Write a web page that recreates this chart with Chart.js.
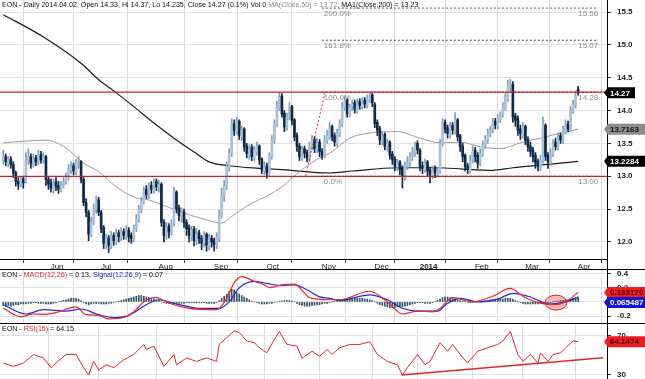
<!DOCTYPE html>
<html>
<head>
<meta charset="utf-8">
<script src="https://cdn.jsdelivr.net/npm/chart.js@4.4.1/dist/chart.umd.min.js"></script>
<style>
html, body { margin: 0; padding: 0; background: #fff; }
#wrap { position: relative; width: 645px; height: 379px; overflow: hidden; font-family: "Liberation Sans", Arial, sans-serif; }
canvas { position: absolute; left: 0; }
.ttl { position: absolute; left: 2px; font-size: 7.1px; line-height: 9px; color: #111; white-space: nowrap; }
</style>
</head>
<body>
<div id="wrap">
  <canvas id="cMain" width="645" height="270" style="top:0px"></canvas>
  <canvas id="cMacd" width="645" height="54" style="top:269px"></canvas>
  <canvas id="cRsi" width="645" height="56" style="top:323px"></canvas>
  <div class="ttl" style="top:1px">EON - Daily 2014.04.02, Open 14.33, Hi 14.37, Lo 14.235, Close 14.27 (0.1%) Vol 0 <span style="color:#8c8c8c">MA(Close,50) = 13.72,</span> MA1(Close,200) = 13.23</div>
  <div class="ttl" style="top:271px">EON - <span style="color:#e0262c">MACD(12,26)</span> = 0.13, <span style="color:#2424d0">Signal(12,26,9)</span> = 0.07</div>
  <div class="ttl" style="top:325px">EON - <span style="color:#e0262c">RSI(15)</span> = 64.15</div>
</div>
<script>
// daily bars, 2013-05-07 .. 2014-04-02 (index = trading day)
const opens = [13.25,13.30,13.20,13.26,13.18,13.05,12.92,12.88,12.96,12.92,
13.24,13.30,13.18,13.28,13.22,13.33,13.24,13.30,12.95,12.90,
12.80,12.92,12.86,12.80,12.86,12.92,12.98,13.10,13.16,13.06,
13.18,13.22,12.95,12.60,12.45,12.12,12.30,12.50,12.64,12.45,
12.22,11.96,12.06,11.94,12.10,12.00,12.14,12.06,12.16,12.08,
12.18,12.10,12.04,12.20,12.35,12.50,12.62,12.80,12.70,12.86,
12.78,12.92,12.82,12.88,12.30,12.10,12.24,12.14,12.28,12.76,
12.52,12.38,12.46,12.30,12.22,12.08,12.20,12.00,12.14,12.06,
11.98,12.12,11.94,12.06,12.02,11.95,12.05,12.40,12.70,12.86,
13.12,13.36,13.80,13.68,13.84,13.60,13.72,13.46,13.32,13.44,
13.28,13.38,13.46,13.26,13.08,13.16,13.04,13.30,13.55,13.80,
14.04,14.22,13.96,13.74,13.90,14.06,13.86,13.62,13.46,13.28,
13.42,13.36,13.26,13.44,13.56,13.40,13.52,13.38,13.30,13.54,
13.60,13.76,13.62,13.50,13.64,13.80,14.04,14.16,13.94,14.06,
14.12,14.00,14.14,14.06,14.16,14.08,14.16,14.24,14.10,13.82,
13.72,13.52,13.64,13.44,13.52,13.34,13.26,13.14,13.22,13.12,
12.98,13.16,13.20,13.30,13.36,13.50,13.40,13.16,13.10,13.22,
13.10,13.00,13.12,13.04,13.08,13.50,13.82,13.74,13.62,13.78,
13.68,13.86,13.62,13.46,13.32,13.16,13.08,13.24,13.40,13.32,
13.20,13.34,13.46,13.56,13.64,13.70,13.84,13.76,13.86,13.94,
14.04,14.18,14.36,14.40,13.92,13.88,13.72,13.62,13.76,13.56,
13.46,13.40,13.32,13.22,13.12,13.24,13.78,13.32,13.20,13.34,
13.52,13.44,13.62,13.54,13.68,13.80,13.70,14.00,14.08,14.33];
const highs = [13.40,13.34,13.30,13.30,13.22,13.08,12.98,13.00,13.00,13.36,
13.42,13.34,13.34,13.32,13.40,13.38,13.36,13.32,13.00,12.96,
12.96,12.98,12.92,12.92,12.98,13.05,13.18,13.22,13.20,13.26,
13.30,13.24,12.98,12.66,12.48,12.38,12.58,12.70,12.68,12.48,
12.25,12.12,12.10,12.16,12.14,12.20,12.18,12.22,12.20,12.25,
12.22,12.14,12.26,12.42,12.56,12.68,12.84,12.86,12.90,12.92,
12.96,12.96,12.94,12.90,12.34,12.30,12.28,12.34,12.83,12.78,
12.56,12.52,12.50,12.34,12.26,12.24,12.24,12.20,12.18,12.10,
12.16,12.14,12.12,12.10,12.06,12.14,12.48,12.82,12.94,13.22,
13.42,13.88,13.86,13.90,13.86,13.76,13.74,13.50,13.48,13.48,
13.46,13.52,13.48,13.28,13.22,13.20,13.36,13.62,13.86,14.14,
14.28,14.26,14.00,13.96,14.12,14.08,13.88,13.66,13.50,13.46,
13.46,13.40,13.52,13.62,13.60,13.58,13.56,13.42,13.62,13.70,
13.82,13.78,13.66,13.72,13.86,14.12,14.22,14.18,14.10,14.16,
14.16,14.18,14.18,14.20,14.20,14.24,14.27,14.26,14.12,13.86,
13.76,13.68,13.66,13.56,13.54,13.38,13.30,13.26,13.24,13.16,
13.22,13.30,13.36,13.44,13.52,13.54,13.42,13.22,13.26,13.24,
13.14,13.16,13.16,13.14,13.56,13.88,13.86,13.78,13.82,13.82,
13.97,13.88,13.64,13.50,13.34,13.20,13.32,13.46,13.44,13.36,
13.42,13.54,13.62,13.72,13.76,13.88,13.88,13.94,13.98,14.12,
14.26,14.46,14.48,14.44,13.96,13.92,13.78,13.82,13.78,13.60,
13.52,13.44,13.36,13.26,13.32,13.90,13.80,13.36,13.42,13.56,
13.58,13.66,13.66,13.76,13.86,13.84,14.06,14.16,14.30,14.37];
const lows = [13.18,13.16,13.14,13.12,12.98,12.85,12.80,12.84,12.82,12.90,
13.18,13.12,13.14,13.16,13.18,13.20,13.20,12.86,12.80,12.76,
12.74,12.78,12.74,12.76,12.82,12.88,12.94,13.04,13.02,13.02,
13.12,12.90,12.55,12.38,12.02,12.08,12.26,12.44,12.40,12.14,
11.90,11.90,11.84,11.90,11.95,11.96,12.00,12.02,12.04,12.04,
12.00,11.98,12.00,12.16,12.30,12.44,12.58,12.66,12.66,12.74,
12.74,12.78,12.76,12.24,12.00,12.04,12.06,12.10,12.24,12.44,
12.32,12.30,12.22,12.10,12.00,12.02,11.94,11.96,11.98,11.88,
11.92,11.86,11.88,11.92,11.86,11.90,12.00,12.36,12.62,12.80,
13.08,13.30,13.62,13.64,13.56,13.54,13.38,13.28,13.26,13.24,
13.24,13.32,13.18,13.04,13.02,12.97,13.00,13.26,13.50,13.76,
14.00,13.90,13.68,13.70,13.86,13.78,13.54,13.38,13.24,13.24,
13.28,13.22,13.22,13.40,13.36,13.36,13.30,13.26,13.28,13.50,
13.56,13.54,13.46,13.46,13.60,13.76,14.00,13.90,13.90,14.00,
13.96,13.96,14.02,14.02,14.04,14.04,14.12,14.06,13.74,13.62,
13.48,13.48,13.40,13.38,13.26,13.18,13.08,13.08,13.02,12.82,
12.94,13.10,13.14,13.24,13.30,13.34,13.08,13.04,13.06,13.00,
12.90,12.96,12.98,13.00,13.04,13.46,13.66,13.58,13.58,13.64,
13.64,13.54,13.38,13.22,13.08,13.04,13.05,13.20,13.22,13.12,
13.16,13.30,13.42,13.50,13.60,13.66,13.72,13.72,13.82,13.90,
14.00,14.14,14.30,13.82,13.76,13.62,13.56,13.58,13.48,13.38,
13.30,13.22,13.12,13.08,13.08,13.20,13.24,13.12,13.16,13.30,
13.40,13.40,13.50,13.50,13.64,13.68,13.68,13.96,14.04,14.235];
const closes = [13.30,13.22,13.26,13.18,13.05,12.92,12.88,12.95,12.90,13.25,
13.30,13.20,13.28,13.22,13.32,13.25,13.30,12.95,12.88,12.82,
12.90,12.85,12.80,12.86,12.92,12.98,13.10,13.15,13.08,13.20,
13.22,12.95,12.60,12.45,12.12,12.30,12.50,12.62,12.45,12.20,
11.98,12.05,11.95,12.10,12.02,12.12,12.08,12.15,12.10,12.18,
12.08,12.05,12.20,12.35,12.50,12.62,12.78,12.72,12.85,12.80,
12.90,12.84,12.88,12.30,12.10,12.22,12.15,12.28,12.75,12.50,
12.40,12.45,12.30,12.20,12.10,12.18,12.02,12.12,12.05,11.98,
12.10,11.95,12.05,12.00,11.96,12.08,12.40,12.72,12.85,13.15,
13.35,13.78,13.70,13.82,13.62,13.70,13.45,13.35,13.42,13.30,
13.40,13.45,13.25,13.10,13.15,13.05,13.30,13.55,13.80,14.05,
14.20,13.95,13.75,13.90,14.05,13.85,13.60,13.45,13.30,13.40,
13.35,13.28,13.45,13.55,13.42,13.50,13.38,13.32,13.55,13.62,
13.75,13.60,13.52,13.65,13.80,14.05,14.15,13.95,14.05,14.10,
14.02,14.12,14.08,14.15,14.10,14.18,14.22,14.12,13.80,13.70,
13.55,13.62,13.45,13.50,13.32,13.25,13.15,13.20,13.10,13.00,
13.15,13.22,13.30,13.38,13.48,13.40,13.15,13.12,13.20,13.08,
13.02,13.10,13.05,13.08,13.50,13.80,13.72,13.65,13.75,13.70,
13.85,13.60,13.45,13.30,13.15,13.10,13.25,13.38,13.30,13.20,
13.35,13.48,13.55,13.65,13.70,13.82,13.78,13.88,13.92,14.05,
14.20,14.38,14.40,13.90,13.85,13.70,13.65,13.75,13.55,13.45,
13.38,13.30,13.20,13.15,13.25,13.78,13.30,13.22,13.35,13.50,
13.45,13.60,13.55,13.70,13.78,13.72,14.00,14.10,14.22,14.27];

// moving averages: [day index, value]
const ma50 = [[0,13.51],[17,13.55],[25,13.43],[32,13.20],[38,13.07],[45,12.84],[53,12.67],[58,12.64],
  [65,12.54],[72,12.44],[78,12.37],[87,12.29],[91,12.39],[99,12.59],[105,12.70],[111,12.84],[118,13.07],
  [126,13.28],[130,13.35],[138,13.58],[146,13.66],[157,13.68],[166,13.58],[174,13.51],[182,13.52],
  [190,13.45],[198,13.42],[206,13.51],[214,13.58],[219,13.63],[229,13.716]];
const ma200 = [[0,15.46],[16,15.12],[31,14.72],[38,14.47],[44,14.30],[52,14.06],[60,13.81],[68,13.58],
  [76,13.37],[82,13.22],[90,13.16],[102,13.12],[111,13.10],[130,13.05],[139,13.08],[157,13.13],
  [173,13.13],[183,13.11],[194,13.09],[203,13.13],[217,13.18],[229,13.228]];

// MACD panel
const macdLine = [[0,-0.09],[7,-0.21],[12,-0.17],[16,-0.175],[21,-0.15],[29,-0.07],[33,-0.18],[38,-0.19],
  [42,-0.24],[48,-0.22],[52,-0.14],[57,0.03],[61,0.065],[64,0.02],[68,-0.04],[74,-0.09],[85,-0.11],
  [89,0.05],[92,0.27],[95,0.355],[100,0.29],[104,0.24],[106,0.20],[111,0.24],[116,0.25],[122,0.06],
  [130,0.03],[134,0.03],[146,0.15],[153,0.0],[159,-0.17],[165,-0.13],[171,-0.14],[174,-0.09],[179,0.06],
  [187,0.0],[195,0.08],[202,0.19],[207,0.08],[212,0.0],[219,-0.04],[224,0.0],[229,0.133]];
const signalLine = [[0,-0.04],[9,-0.17],[16,-0.11],[25,-0.13],[31,-0.10],[38,-0.18],[44,-0.22],[50,-0.19],
  [57,-0.04],[62,0.03],[68,-0.02],[78,-0.09],[86,-0.09],[90,0.0],[94,0.20],[100,0.29],[105,0.26],
  [111,0.23],[116,0.24],[122,0.15],[126,0.07],[130,0.05],[134,0.02],[146,0.10],[153,0.03],[159,-0.09],
  [165,-0.13],[173,-0.13],[177,-0.02],[182,0.05],[189,0.0],[197,0.04],[203,0.12],[209,0.08],[218,-0.03],
  [224,0.0],[229,0.065]];
const macdHist = [-0.05,-0.06,-0.05,-0.06,-0.05,-0.04,-0.04,-0.03,-0.03,-0.03,
-0.02,-0.02,-0.01,-0.01,-0.02,-0.02,-0.02,-0.03,-0.03,-0.03,
-0.02,-0.01,0,0.01,0.02,0.03,0.04,0.05,0.05,0.05,
0.04,0.02,-0.01,-0.03,-0.04,-0.03,-0.02,-0.02,-0.02,-0.03,
-0.03,-0.03,-0.02,-0.02,-0.01,0,0.01,0.02,0.03,0.04,
0.05,0.06,0.07,0.08,0.09,0.09,0.08,0.07,0.06,0.05,
0.04,0.03,0.02,0,-0.01,-0.02,-0.02,-0.02,-0.02,-0.02,
-0.02,-0.02,-0.02,-0.01,-0.01,-0.01,-0.01,-0.01,-0.01,-0.01,
-0.01,-0.02,-0.02,-0.02,-0.02,-0.01,0.02,0.05,0.08,0.11,
0.15,0.18,0.17,0.13,0.11,0.09,0.07,0.05,0.03,0.01,
0,-0.01,-0.02,-0.03,-0.03,-0.03,-0.02,-0.02,-0.01,0,
0.01,0.01,0.02,0.02,0.02,0.01,0,-0.02,-0.04,-0.05,
-0.06,-0.06,-0.06,-0.05,-0.05,-0.04,-0.04,-0.03,-0.02,-0.02,
-0.01,0,0.01,0.02,0.03,0.03,0.04,0.04,0.05,0.05,
0.05,0.05,0.05,0.05,0.04,0.04,0.03,0.02,0,-0.02,
-0.04,-0.05,-0.06,-0.07,-0.08,-0.08,-0.08,-0.07,-0.07,-0.07,
-0.06,-0.05,-0.04,-0.03,-0.02,-0.01,-0.01,-0.01,-0.02,-0.02,
-0.02,-0.01,0,0.02,0.04,0.06,0.07,0.07,0.06,0.05,
0.04,0.03,0.02,0.01,0,-0.01,-0.01,-0.01,0,0,
0.01,0.01,0.02,0.02,0.03,0.03,0.04,0.04,0.04,0.04,
0.05,0.05,0.05,0.04,0.02,0,-0.01,-0.02,-0.03,-0.03,
-0.03,-0.03,-0.03,-0.03,-0.02,-0.02,-0.02,-0.01,-0.01,0,
0.01,0.01,0.02,0.02,0.03,0.03,0.04,0.05,0.06,0.07];

// RSI(15)
const rsi = [[0,42.2],[4,38.7],[8,42.2],[12,50.9],[16,47.4],[19,37.5],[21,42.2],[25,51],[29,51],[32,37.5],
  [34,30],[36,43.9],[38,35.2],[41,40.4],[44,37.5],[48,45.4],[52,51],[56,61.3],[57,56.1],[60,59.6],
  [64,38.7],[68,51],[69,40.4],[73,47.4],[77,43.9],[81,47.4],[85,43.9],[86,61.3],[89,68.3],[92,75.2],
  [94,73.5],[97,64.8],[100,63.1],[102,57.9],[105,52.6],[108,66.6],[110,74.5],[113,61.3],[117,59.6],
  [119,47.1],[123,54.3],[126,49.1],[129,56.1],[131,51],[134,57.9],[138,61.3],[142,61.3],[146,64.1],
  [149,51],[153,43.9],[157,40.4],[159,30],[161,37.5],[165,50.9],[168,40.4],[170,43.9],[174,63.1],
  [177,54.3],[179,61.3],[182,51],[185,42.2],[189,54.3],[193,57.9],[197,61.3],[199,64.8],[202,74.6],
  [205,51],[207,43.9],[210,51],[213,42.2],[214,52.6],[217,43.9],[219,51],[222,52.6],[224,57.9],
  [227,64.8],[229,64.15]];
const rsiTrend = [[158.7,30],[239,47.5]];

// axes
const monthTicks = [18, 38, 61, 83, 104, 126, 147, 165, 187, 207, 228];
const monthLabels = ['Jun', 'Jul', 'Aug', 'Sep', 'Oct', 'Nov', 'Dec', '2014', 'Feb', 'Mar', 'Apr'];
const priceTicks = [12, 12.5, 13, 13.5, 14, 14.5, 15, 15.5];
const macdTicks = [-0.2, 0, 0.2, 0.4];
const rsiTicks = [30, 70];

// support / resistance and fibonacci
const supportLevels = [13.00, 14.28];
const fibLevels = [13.00, 14.28, 15.07, 15.56];
const fibNames = ['0.0%', '100.0%', '161.8%', '200.0%'];
const fibSpan = [126.9, 237];
const fibAnchor = [[120.4, 13.00], [128.2, 14.28]];

const xMin = -1.3, xMax = 240.5;
const FONT = '"Liberation Sans", Arial, sans-serif';
const upBody = '#a7c2d9', upWick = '#7f9dba', dnBody = '#0f2848';

const pts = arr => arr.map(p => ({x: p[0], y: p[1]}));

function xAxis(h, showLabels) {
  return {
    type: 'linear', min: xMin, max: xMax, offset: false,
    afterBuildTicks: s => { s.ticks = monthTicks.map(v => ({value: v})); },
    afterFit: s => { s.height = h; s.paddingLeft = 0; s.paddingRight = 0; },
    grid: {color: '#dddddd', lineWidth: 1, drawTicks: showLabels, tickLength: 4, tickColor: '#444'},
    border: {display: showLabels, color: '#000'},
    ticks: {
      display: showLabels, align: 'start', padding: -1, maxRotation: 0, autoSkip: false, color: '#222',
      font: c => ({family: FONT, size: 8, weight: (c.index === 7 ? 'bold' : 'normal')}),
      callback: (v, i) => ' ' + monthLabels[i]
    }
  };
}

function yAxis(min, max, ticks, fmt) {
  return {
    position: 'right', min: min, max: max,
    afterBuildTicks: s => { s.ticks = ticks.map(v => ({value: v})); },
    afterFit: s => { s.width = 38; s.paddingTop = 0; s.paddingBottom = 0; },
    grid: {color: '#e2e2e2', tickLength: 4, tickColor: '#333'},
    border: {color: '#000'},
    ticks: {padding: 6, color: '#222', font: {family: FONT, size: 8, weight: 'bold'}, callback: fmt}
  };
}

function baseOptions(xa, ya) {
  return {
    responsive: false, animation: false, events: [],
    layout: {padding: 0},
    plugins: {legend: {display: false}, tooltip: {enabled: false}},
    scales: {x: xa, y: ya}
  };
}

function drawTag(ctx, x, y, w, bg, fg, text) {
  ctx.save();
  ctx.beginPath();
  ctx.moveTo(x - 4, y);
  ctx.lineTo(x, y - 5.5);
  ctx.lineTo(x + w, y - 5.5);
  ctx.lineTo(x + w, y + 5.5);
  ctx.lineTo(x, y + 5.5);
  ctx.closePath();
  ctx.fillStyle = bg;
  ctx.fill();
  ctx.fillStyle = fg;
  ctx.font = 'bold 8px ' + FONT;
  ctx.textAlign = 'left';
  ctx.textBaseline = 'middle';
  ctx.fillText(text, x + 2, y + 0.5);
  ctx.restore();
}

// frame lines and value tags on the right axis
function panelPlugin(tags, topLine) {
  return {
    id: 'panel',
    afterDraw(chart) {
      const ctx = chart.ctx, a = chart.chartArea, ys = chart.scales.y;
      ctx.save();
      ctx.strokeStyle = '#000';
      ctx.lineWidth = 1;
      ctx.beginPath();
      ctx.moveTo(a.right + 0.5, 0);
      ctx.lineTo(a.right + 0.5, chart.height);
      if (topLine) { ctx.moveTo(0, 0.5); ctx.lineTo(chart.width, 0.5); }
      ctx.stroke();
      ctx.restore();
      let last = -100;
      tags.forEach(t => {
        let y = ys.getPixelForValue(t.v);
        if (t.nudge && y < last + 10) y = last + 10;
        last = y;
        drawTag(ctx, a.right + 1, y, t.w, t.bg, t.fg, t.text);
      });
    }
  };
}

const fibLabels = {
  id: 'fibLabels',
  afterDatasetsDraw(chart) {
    const ctx = chart.ctx, xs = chart.scales.x, ys = chart.scales.y;
    ctx.save();
    ctx.font = '8px ' + FONT;
    ctx.fillStyle = '#8a8a8a';
    ctx.textBaseline = 'top';
    fibLevels.forEach((v, i) => {
      const y = ys.getPixelForValue(v) + 1.5;
      ctx.textAlign = 'left';
      ctx.fillText(fibNames[i], xs.getPixelForValue(fibSpan[0]) + 2, y);
      ctx.textAlign = 'right';
      ctx.fillText(v.toFixed(2), xs.getPixelForValue(fibSpan[1]), y);
    });
    ctx.restore();
  }
};

const bodyColor = c => closes[c.dataIndex] >= opens[c.dataIndex] ? upBody : dnBody;
const wickColor = c => closes[c.dataIndex] >= opens[c.dataIndex] ? upWick : dnBody;

const mainDatasets = [
  {type: 'bar', data: closes.map((c, i) => ({x: i, y: [lows[i], highs[i]]})), barThickness: 1,
   grouped: false, backgroundColor: wickColor, borderWidth: 0, order: 3},
  {type: 'bar', data: closes.map((c, i) => ({x: i, y: [opens[i], c]})), barThickness: 2,
   grouped: false, backgroundColor: bodyColor, borderWidth: 0, order: 2},
  {type: 'line', data: pts(ma50), borderColor: '#9b9b9b', borderWidth: 1, pointRadius: 0,
   cubicInterpolationMode: 'monotone', order: 4},
  {type: 'line', data: pts(ma200), borderColor: '#1c1c1c', borderWidth: 1.2, pointRadius: 0,
   cubicInterpolationMode: 'monotone', order: 4}
];
fibLevels.forEach(v => mainDatasets.push({type: 'line', data: [{x: fibSpan[0], y: v}, {x: fibSpan[1], y: v}],
  borderColor: '#555', borderWidth: 1, borderDash: [2, 2], pointRadius: 0, order: 5}));
mainDatasets.push({type: 'line', data: pts(fibAnchor), borderColor: '#e0262c', borderWidth: 1,
  borderDash: [2, 2], pointRadius: 0, order: 1});
supportLevels.forEach(v => mainDatasets.push({type: 'line', data: [{x: xMin - 2, y: v}, {x: xMax + 2, y: v}],
  borderColor: '#c8232b', borderWidth: 1.2, pointRadius: 0, order: 1}));

new Chart(document.getElementById('cMain'), {
  type: 'bar',
  data: {datasets: mainDatasets},
  options: baseOptions(xAxis(11, true), yAxis(11.741, 15.683, priceTicks, v => v.toFixed(1))),
  plugins: [fibLabels, panelPlugin([
    {v: 14.27, w: 27, bg: '#000', fg: '#fff', text: '14.27'},
    {v: 13.7163, w: 40, bg: '#8d8d8d', fg: '#111', text: '13.7163'},
    {v: 13.2284, w: 40, bg: '#000', fg: '#fff', text: '13.2284'}
  ], false)]
});

const ellipse = {
  id: 'ellipse',
  beforeDatasetsDraw(chart) {
    const ctx = chart.ctx, xs = chart.scales.x, ys = chart.scales.y;
    ctx.save();
    ctx.beginPath();
    ctx.ellipse(xs.getPixelForValue(220.2), ys.getPixelForValue(-0.01), 11, 7.5, 0, 0, Math.PI * 2);
    ctx.fillStyle = 'rgba(240,140,140,0.6)';
    ctx.fill();
    ctx.strokeStyle = '#d9232b';
    ctx.lineWidth = 1;
    ctx.stroke();
    ctx.restore();
  }
};

new Chart(document.getElementById('cMacd'), {
  type: 'bar',
  data: {datasets: [
    {type: 'bar', data: macdHist.map((v, i) => ({x: i, y: v})), barThickness: 1, grouped: false,
     backgroundColor: '#2f5566', borderWidth: 0, order: 3},
    {type: 'line', data: pts(signalLine), borderColor: '#2424d0', borderWidth: 1.2, pointRadius: 0,
     cubicInterpolationMode: 'monotone', order: 2},
    {type: 'line', data: pts(macdLine), borderColor: '#e8262b', borderWidth: 1.2, pointRadius: 0,
     cubicInterpolationMode: 'monotone', order: 1}
  ]},
  options: baseOptions(xAxis(0, false), yAxis(-0.297, 0.463, macdTicks, v => v === 0 ? '0' : v.toFixed(1))),
  plugins: [ellipse, panelPlugin([
    {v: 0.13317, w: 40, bg: '#ee1c22', fg: '#4a0000', text: '0.133170'},
    {v: 0.065487, w: 40, bg: '#1414d8', fg: '#fff', text: '0.065487', nudge: true}
  ], true)]
});

new Chart(document.getElementById('cRsi'), {
  type: 'line',
  data: {datasets: [
    {data: pts(rsi), borderColor: '#e0262c', borderWidth: 1, pointRadius: 0, tension: 0, order: 1},
    {data: pts(rsiTrend), borderColor: '#e0262c', borderWidth: 1.5, pointRadius: 0, order: 2}
  ]},
  options: baseOptions(xAxis(0, false), yAxis(25.8, 83.3, rsiTicks, v => String(v))),
  plugins: [panelPlugin([
    {v: 64.1474, w: 40, bg: '#ee1c22', fg: '#4a0000', text: '64.1474'}
  ], true)]
});
</script>
</body>
</html>
